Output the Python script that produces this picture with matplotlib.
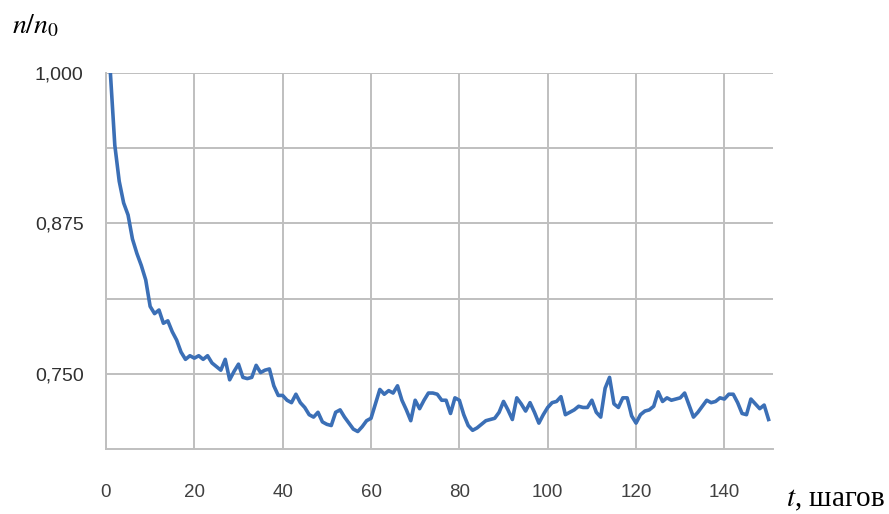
import matplotlib
matplotlib.use("Agg")
import matplotlib.pyplot as plt
from matplotlib.ticker import FixedLocator, FuncFormatter

# data (t = 1..150)
steps = list(range(1, 151))
ratio = [
    1.000, 0.940, 0.910, 0.892, 0.882, 0.862, 0.850, 0.840, 0.828, 0.806,
    0.800, 0.803, 0.792, 0.794, 0.785, 0.778, 0.768, 0.762, 0.765, 0.763,
    0.765, 0.762, 0.765, 0.759, 0.756, 0.753, 0.762, 0.745, 0.752, 0.758,
    0.747, 0.746, 0.747, 0.757, 0.751, 0.753, 0.754, 0.740, 0.732, 0.732,
    0.728, 0.726, 0.733, 0.726, 0.722, 0.716, 0.714, 0.718, 0.710, 0.708,
    0.707, 0.718, 0.720, 0.714, 0.709, 0.704, 0.702, 0.706, 0.711, 0.713,
    0.725, 0.737, 0.733, 0.736, 0.734, 0.740, 0.728, 0.720, 0.711, 0.728,
    0.721, 0.728, 0.734, 0.734, 0.733, 0.728, 0.728, 0.717, 0.730, 0.728,
    0.716, 0.707, 0.703, 0.705, 0.708, 0.711, 0.712, 0.713, 0.718, 0.727,
    0.720, 0.712, 0.730, 0.725, 0.719, 0.726, 0.718, 0.709, 0.716, 0.722,
    0.726, 0.727, 0.731, 0.716, 0.718, 0.720, 0.723, 0.722, 0.722, 0.728,
    0.718, 0.714, 0.738, 0.747, 0.725, 0.722, 0.730, 0.730, 0.715, 0.709,
    0.716, 0.719, 0.720, 0.723, 0.735, 0.727, 0.730, 0.728, 0.729, 0.730,
    0.734, 0.724, 0.714, 0.718, 0.723, 0.728, 0.726, 0.727, 0.730, 0.729,
    0.733, 0.733, 0.726, 0.717, 0.716, 0.729, 0.725, 0.721, 0.724, 0.712,
]
x_ticks = [0, 20, 40, 60, 80, 100, 120, 140]
y_ticks = [0.750, 0.875, 1.000]
y_minor = [0.8125, 0.9375]

plt.rcParams['mathtext.fontset'] = 'stix'

fig = plt.figure(figsize=(8.89, 5.14), dpi=100)
ax = fig.add_axes([0.1192, 0.1265, 0.7503, 0.7315])

ax.plot(steps, ratio, color='#3b6fb6', lw=2.6, solid_joinstyle='round')

ax.set_xlim(0, 151)
ax.set_ylim(0.6875, 1.0)
ax.set_xticks(x_ticks)
ax.yaxis.set_major_locator(FixedLocator(y_ticks))
ax.yaxis.set_minor_locator(FixedLocator(y_minor))
ax.yaxis.set_major_formatter(FuncFormatter(lambda v, p: ('%.3f' % v).replace('.', ',')))

ax.grid(True, which='both', color='#bfbfbf', lw=1.4)
ax.set_axisbelow(True)
for s in ['top', 'right']:
    ax.spines[s].set_visible(False)
for s in ['left', 'bottom']:
    ax.spines[s].set_color('#bfbfbf')
    ax.spines[s].set_linewidth(1.4)

ax.tick_params(axis='both', which='both', length=0)
ax.tick_params(axis='x', pad=25, labelsize=13.5, labelcolor='#404040')
ax.tick_params(axis='y', pad=16, labelsize=14, labelcolor='#303030')
for lab in ax.get_xticklabels() + ax.get_yticklabels():
    lab.set_family('Liberation Sans')

fig.text(0.014, 0.935, r'$n/n_0$', fontsize=20, ha='left', va='baseline',
         family='Liberation Serif')
fig.text(0.996, 0.014, r'$t$, шагов', fontsize=21, ha='right', va='baseline',
         family='Liberation Serif')

fig.savefig('out.png', dpi=100)
